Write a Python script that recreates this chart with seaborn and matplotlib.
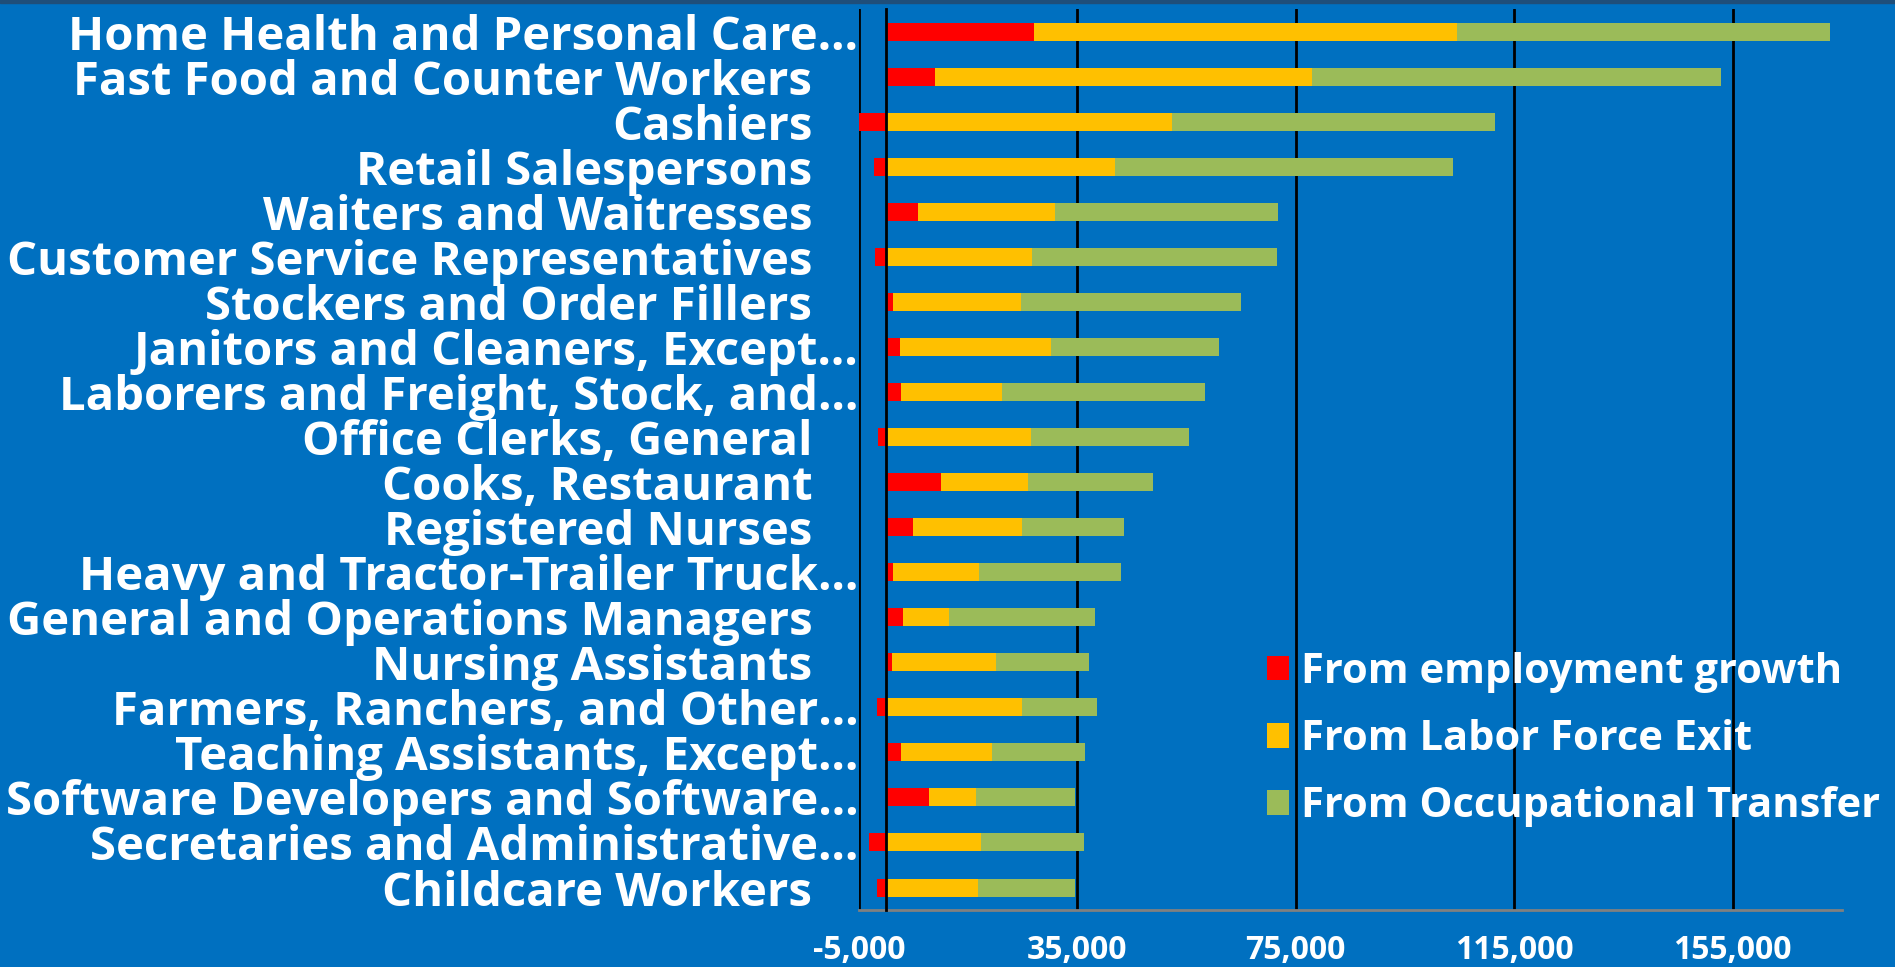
import numpy as np
import pandas as pd
import matplotlib
matplotlib.use("Agg")
import matplotlib.pyplot as plt
import matplotlib.transforms as mtransforms
from matplotlib.patches import Patch, Rectangle
import seaborn as sns

# occupations, top to bottom
categories = [
    "Home Health and Personal Care…",
    "Fast Food and Counter Workers",
    "Cashiers",
    "Retail Salespersons",
    "Waiters and Waitresses",
    "Customer Service Representatives",
    "Stockers and Order Fillers",
    "Janitors and Cleaners, Except…",
    "Laborers and Freight, Stock, and…",
    "Office Clerks, General",
    "Cooks, Restaurant",
    "Registered Nurses",
    "Heavy and Tractor-Trailer Truck…",
    "General and Operations Managers",
    "Nursing Assistants",
    "Farmers, Ranchers, and Other…",
    "Teaching Assistants, Except…",
    "Software Developers and Software…",
    "Secretaries and Administrative…",
    "Childcare Workers",
]
growth = [27000, 9000, -4900, -2200, 5900, -2100, 1300, 2600, 2800, -1400,
          10100, 5000, 1300, 3000, 1000, -1700, 2800, 7800, -3200, -1700]
exits = [77500, 68900, 52400, 41900, 25100, 26700, 23400, 27500, 18500, 26500,
         15800, 19800, 15700, 8600, 19100, 24800, 16500, 8600, 17300, 16900]
transfers = [68400, 75000, 59000, 61900, 40800, 44800, 40300, 30900, 37100, 28900,
             22900, 18700, 26000, 26600, 17000, 13900, 17100, 18200, 19000, 17600]
series_names = ["From employment growth", "From Labor Force Exit", "From Occupational Transfer"]
xticks = [-5000, 35000, 75000, 115000, 155000]

RED, YELLOW, GREEN = "#FF0000", "#FFC000", "#9BBB59"
BG = "#0070C0"

df = pd.DataFrame({"occupation": categories, "growth": growth,
                   "exits": exits, "transfers": transfers})
# negative growth goes left of zero, the rest stacks from zero
pos_growth = df["growth"].clip(lower=0)
df["cum_exit"] = pos_growth + df["exits"]
df["cum_all"] = df["cum_exit"] + df["transfers"]

sns.set_theme(style="white")
plt.rcParams["font.family"] = ["Open Sans", "DejaVu Sans"]
plt.rcParams["font.weight"] = "bold"

fig = plt.figure(figsize=(18.95, 9.67), dpi=100, facecolor=BG)
ax = fig.add_axes([0.4532, 0.0589, 0.9720 - 0.4532, 0.9907 - 0.0589])
ax.set_facecolor(BG)
fig.add_artist(Rectangle((0, 0.9965), 1, 0.0035, transform=fig.transFigure,
                         color="#1F4E79", zorder=5))

# draw back to front: full stack, then exit+growth, then growth
sns.barplot(data=df, y="occupation", x="cum_all", color=GREEN, width=0.4,
            errorbar=None, orient="h", saturation=1, ax=ax, zorder=3)
sns.barplot(data=df, y="occupation", x="cum_exit", color=YELLOW, width=0.4,
            errorbar=None, orient="h", saturation=1, ax=ax, zorder=3)
sns.barplot(data=df, y="occupation", x="growth", color=RED, width=0.4,
            errorbar=None, orient="h", saturation=1, ax=ax, zorder=3)
for p in ax.patches:
    p.set_linewidth(0)

ax.set_xlim(-5000, 175000)
ax.set_xticks(xticks)
ax.set_xticklabels([f"{v:,}" for v in xticks])
ax.set_xlabel("")
ax.set_ylabel("")
ax.grid(axis="x", color="black", linewidth=2, zorder=1)
ax.grid(axis="y", visible=False)
ax.set_axisbelow(True)

for s in ["top", "right"]:
    ax.spines[s].set_visible(False)
ax.spines["bottom"].set_color("#808080")
ax.spines["bottom"].set_linewidth(2)
ax.spines["left"].set_position(("data", 0))
ax.spines["left"].set_color("black")
ax.spines["left"].set_linewidth(2)
ax.spines["left"].set_zorder(4)

ax.tick_params(axis="x", colors="#808080", length=7, width=1.5, pad=10,
               labelcolor="white", labelsize=23)
ax.set_yticks(np.arange(-0.5, len(categories), 1), minor=True)
ax.tick_params(axis="y", which="major", length=0, pad=20, labelcolor="white",
               labelsize=34)
ax.tick_params(axis="y", which="minor", length=11, width=2, color="black")
for lab in ax.get_xticklabels() + ax.get_yticklabels():
    lab.set_fontweight("bold")

# labels without an ellipsis sit a bit further left
shift = mtransforms.ScaledTranslation(-0.46, 0, fig.dpi_scale_trans)
for lab in ax.get_yticklabels():
    if not lab.get_text().endswith("…"):
        lab.set_transform(lab.get_transform() + shift)

handles = [Patch(facecolor=c, edgecolor="none") for c in (RED, YELLOW, GREEN)]
leg = ax.legend(handles, series_names, loc="upper left",
                bbox_to_anchor=(0.6686, 0.326), bbox_transform=fig.transFigure,
                frameon=False, fontsize=30, handlelength=0.53, handleheight=0.53,
                handletextpad=0.29, labelspacing=0.63, borderpad=0, borderaxespad=0)
for t in leg.get_texts():
    t.set_color("white")
    t.set_fontweight("bold")

fig.savefig("out.png", dpi=100, facecolor=BG)
